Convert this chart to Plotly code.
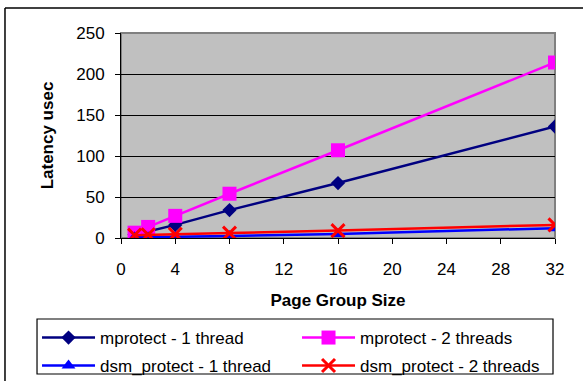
import plotly.graph_objects as go

page_group_size = [1, 2, 4, 8, 16, 32]
mprotect_1 = [4, 8, 16, 34, 67, 136]
mprotect_2 = [6.5, 13.5, 27, 54, 107, 214]
dsm_1 = [1, 1, 1.5, 2.5, 5, 12]
dsm_2 = [3.5, 4, 4.5, 6, 9, 16]

x_ticks = [0, 4, 8, 12, 16, 20, 24, 28, 32]
y_ticks = [0, 50, 100, 150, 200, 250]

FONT = "Arial, Liberation Sans, sans-serif"

fig = go.Figure()
fig.add_trace(go.Scatter(x=page_group_size, y=mprotect_1, name="mprotect - 1 thread",
                         mode="lines+markers", line=dict(color="#000080", width=2.5),
                         marker=dict(symbol="diamond", size=11, color="#000080"),
                         legend="legend"))
fig.add_trace(go.Scatter(x=page_group_size, y=mprotect_2, name="mprotect - 2 threads",
                         mode="lines+markers", line=dict(color="#FF00FF", width=2.5),
                         marker=dict(symbol="square", size=14, color="#FF00FF"),
                         legend="legend"))
fig.add_trace(go.Scatter(x=page_group_size, y=dsm_1, name="dsm_protect - 1 thread",
                         mode="lines+markers", line=dict(color="#0000FF", width=2.5),
                         marker=dict(symbol="triangle-up", size=12, color="#0000FF"),
                         legend="legend2"))
fig.add_trace(go.Scatter(x=page_group_size, y=dsm_2, name="dsm_protect - 2 threads",
                         mode="lines+markers", line=dict(color="#FF0000", width=2.5),
                         marker=dict(symbol="x-thin", size=13, color="#FF0000",
                                     line=dict(color="#FF0000", width=3)),
                         legend="legend2"))

legend_common = dict(orientation="h", xanchor="left", yanchor="middle",
                     bgcolor="rgba(0,0,0,0)", borderwidth=0,
                     entrywidth=192, entrywidthmode="pixels",
                     font=dict(family=FONT, size=17, color="black"),
                     itemwidth=53)

fig.update_layout(
    width=583, height=381,
    margin=dict(l=121, r=28, t=33, b=143, autoexpand=False),
    paper_bgcolor="white",
    plot_bgcolor="#C0C0C0",
    font=dict(family=FONT, color="black", size=17),
    showlegend=True,
    legend=dict(x=-0.1935, y=-0.4878, **legend_common),
    legend2=dict(x=-0.1935, y=-0.6244, **legend_common),
    xaxis=dict(range=[0, 32], tickvals=x_ticks, ticks="outside", ticklen=5,
               tickcolor="black", showline=True, linecolor="black", linewidth=1,
               showgrid=False, zeroline=False, ticklabelstandoff=11,
               tickfont=dict(size=17),
               title=dict(text="<b>Page Group Size</b>", font=dict(size=17), standoff=15)),
    yaxis=dict(range=[0, 250], tickvals=y_ticks, ticks="outside", ticklen=5,
               tickcolor="black", showline=True, linecolor="black", linewidth=1,
               showgrid=True, gridcolor="black", gridwidth=1, zeroline=False,
               ticklabelstandoff=7, tickfont=dict(size=17),
               title=dict(text="<b>Latency usec</b>", font=dict(size=17), standoff=18)),
    shapes=[
        dict(type="rect", xref="paper", yref="paper", x0=0, x1=1, y0=0, y1=1,
             line=dict(color="#808080", width=2), layer="below"),
        dict(type="line", xref="paper", yref="paper", x0=-0.2673, x1=1.2, y0=1.122, y1=1.122,
             line=dict(color="black", width=1.5)),
        dict(type="line", xref="paper", yref="paper", x0=-0.2673, x1=-0.2673, y0=1.122, y1=-0.8,
             line=dict(color="black", width=1.5)),
        dict(type="rect", xref="paper", yref="paper", x0=-0.1935, x1=0.9954, y0=-0.6634, y1=-0.3951,
             line=dict(color="black", width=1.2)),
    ],
)

fig.write_html(
    "out.html", config={"displayModeBar": False},
    post_script=("document.body.style.margin='0';"
                 "document.body.style.overflow='hidden';"
                 "document.documentElement.style.overflow='hidden';"))
